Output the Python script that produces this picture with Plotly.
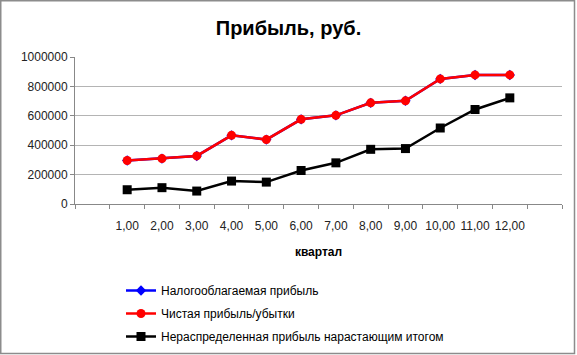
import plotly.graph_objects as go

quarters = ["1,00", "2,00", "3,00", "4,00", "5,00", "6,00",
            "7,00", "8,00", "9,00", "10,00", "11,00", "12,00"]
axis_categories = [" "] + quarters + ["  "]

taxable_profit = [296000, 309000, 327000, 467000, 438000, 576000,
                  603000, 688000, 702000, 851000, 878000, 878000]
net_profit = [296000, 309000, 327000, 467000, 438000, 576000,
              603000, 688000, 702000, 851000, 878000, 878000]
retained_cumulative = [97000, 111000, 88000, 156000, 149000, 228000,
                       280000, 372000, 377000, 517000, 643000, 722000]

series_names = ["Налогооблагаемая прибыль", "Чистая прибыль/убытки",
                "Нераспределенная прибыль нарастающим итогом"]

FONT = "Liberation Sans"

fig = go.Figure()
fig.add_trace(go.Scatter(x=quarters, y=taxable_profit, name=series_names[0],
                         mode="lines+markers", legendgroup="a",
                         line=dict(color="#0000FF", width=2.5),
                         marker=dict(symbol="diamond", size=8, color="#0000FF")))
fig.add_trace(go.Scatter(x=quarters, y=net_profit, name=series_names[1],
                         mode="lines+markers", legendgroup="b",
                         line=dict(color="#FF0000", width=2.5),
                         marker=dict(symbol="circle", size=9, color="#FF0000")))
fig.add_trace(go.Scatter(x=quarters, y=retained_cumulative, name=series_names[2],
                         mode="lines+markers", legendgroup="c",
                         line=dict(color="#000000", width=2.5),
                         marker=dict(symbol="square", size=9, color="#000000")))

L, R, T, B = 75, 15, 57, 151
W, H = 577, 355
pw, ph = W - L - R, H - T - B

def px(xp):
    return (xp - L) / pw

def py(yp):
    return (H - B - yp) / ph

fig.update_layout(
    width=W, height=H,
    margin=dict(l=L, r=R, t=T, b=B, autoexpand=False),
    paper_bgcolor="white", plot_bgcolor="white",
    font=dict(family=FONT, size=12, color="#222222"),
    title=dict(text="<b>Прибыль, руб.</b>", x=0.5, xref="container", xanchor="center",
               y=1 - 28 / H, yanchor="middle", yref="container",
               font=dict(family=FONT, size=20, color="#000000")),
    xaxis=dict(type="category", categoryorder="array", categoryarray=axis_categories,
               range=[-0.5, len(axis_categories) - 0.5], tickangle=0, automargin=False,
               tickson="boundaries", ticks="outside", ticklen=4, tickcolor="#888888",
               showline=True, linecolor="#888888", linewidth=1, showgrid=False,
               ticklabelstandoff=11, tickfont=dict(size=12),
               title=dict(text="<b>квартал</b>", standoff=15, font=dict(size=12, color="#000000"))),
    yaxis=dict(range=[0, 1000000], tickvals=[0, 200000, 400000, 600000, 800000, 1000000],
               ticktext=["0", "200000", "400000", "600000", "800000", "1000000"],
               ticks="outside", ticklen=4, tickcolor="#888888", automargin=False,
               showline=True, linecolor="#888888", linewidth=1, tickfont=dict(size=12),
               showgrid=True, gridcolor="#b4b4b4", gridwidth=1, zeroline=False),
    legend=dict(x=px(121), xanchor="left", y=py(276), yanchor="top",
                orientation="v", tracegroupgap=4,
                font=dict(family=FONT, size=12, color="#000000"),
                bgcolor="rgba(0,0,0,0)"),
    shapes=[dict(type="rect", xref="paper", yref="paper",
                 x0=px(0.75), x1=px(574.5), y0=py(353.5), y1=py(0.75),
                 line=dict(color="#8c8c8c", width=1.5), fillcolor="rgba(0,0,0,0)", layer="below")],
)

fig.write_html("out.html", config={"displayModeBar": False},
               post_script="document.body.style.margin='0';document.body.style.padding='0';")
